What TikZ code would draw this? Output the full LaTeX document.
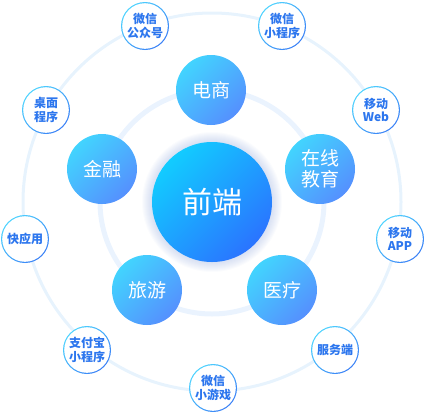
\documentclass[tikz,border=0pt]{standalone}
\usepackage{fontspec}
\newfontfamily\cjk{Noto Sans CJK SC}
\definecolor{ringout}{HTML}{E7F3FD}
\definecolor{ringin}{HTML}{EAF3FE}
\definecolor{midA}{HTML}{42D4FE}
\definecolor{midB}{HTML}{5590FE}
\definecolor{cenA}{HTML}{12CCFF}
\definecolor{cenB}{HTML}{2A74FF}
\definecolor{smA}{HTML}{4FD3FE}
\definecolor{smB}{HTML}{3A80F6}
\definecolor{smtext}{HTML}{2C76EE}
\definecolor{glowc}{HTML}{8EA6DC}
\tikzset{
  ringouterline/.style={draw=ringout, line width=3pt},
  ringinnerline/.style={draw=ringin, line width=5pt},
  glowlayer/.style={fill=glowc, fill opacity=0.04},
  cennode/.style={circle, minimum size=120pt, inner sep=0pt, top color=cenA, bottom color=cenB, shading angle=45, text=white, font=\cjk\fontsize{30}{34}\selectfont},
  midnode/.style={circle, minimum size=70pt, inner sep=0pt, top color=midA, bottom color=midB, shading angle=45, text=white, align=center, font=\cjk\fontsize{19}{21}\selectfont},
  smring/.style={circle, minimum size=48pt, inner sep=0pt, top color=smA, bottom color=smB, shading angle=45},
  smnode/.style={circle, minimum size=45.6pt, inner sep=0pt, fill=white, text=smtext, align=center, font=\cjk\bfseries\fontsize{12}{13.5}\selectfont},
}
\begin{document}
\begin{tikzpicture}[x=1pt,y=-1pt]
\useasboundingbox (0,0) rectangle (425,413);
\coordinate (c) at (212,202);
\draw[ringouterline] (c) circle (189);
\draw[ringinnerline] (c) circle (112);
\foreach \r in {61,62,...,70} {\fill[glowlayer] (c) circle (\r);}
% center
\node[cennode] (fe) at (c) {前端};
% middle
\node[midnode] (m1) at (211,90) {电商};
\node[midnode] (m2) at (320,169) {在线\\教育};
\node[midnode] (m3) at (102,169) {金融};
\node[midnode] (m4) at (147,290) {旅游};
\node[midnode] (m5) at (282,290) {医疗};
% small
\node[smring] (r1) at (145,26) {};
\node[smnode] (s1) at (r1) {微信\\公众号};
\node[smring] (r2) at (282,26) {};
\node[smnode] (s2) at (r2) {微信\\小程序};
\node[smring] (r3) at (376,110) {};
\node[smnode] (s3) at (r3) {移动\\Web};
\node[smring] (r4) at (400,239) {};
\node[smnode] (s4) at (r4) {移动\\APP};
\node[smring] (r5) at (335,350) {};
\node[smnode] (s5) at (r5) {服务端};
\node[smring] (r6) at (213,388) {};
\node[smnode] (s6) at (r6) {微信\\小游戏};
\node[smring] (r7) at (87,350) {};
\node[smnode] (s7) at (r7) {支付宝\\小程序};
\node[smring] (r8) at (25,239) {};
\node[smnode] (s8) at (r8) {快应用};
\node[smring] (r9) at (46,110) {};
\node[smnode] (s9) at (r9) {桌面\\程序};
\end{tikzpicture}
\end{document}
